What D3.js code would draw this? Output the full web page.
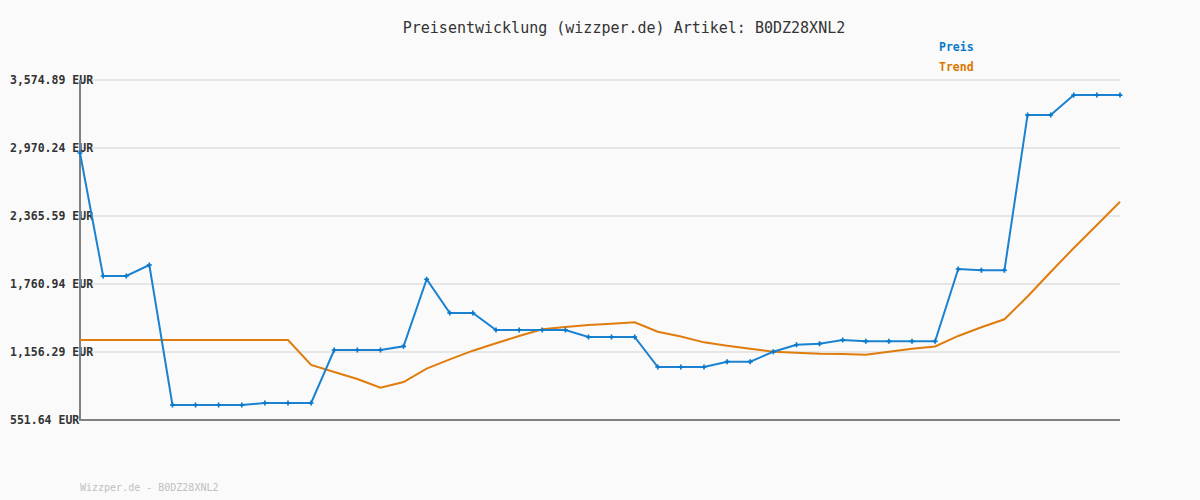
<!DOCTYPE html>
<html>
<head>
<meta charset="utf-8">
<script src="https://cdn.jsdelivr.net/npm/d3@7"></script>
<style>
  body { margin: 0; background: #fafafa; }
  text { font-family: "DejaVu Sans Mono", "Liberation Mono", monospace; }
</style>
</head>
<body>
<div id="chart"></div>
<script>
// price per observation (EUR)
const preis = [2926, 1832, 1832, 1930, 685, 685, 685, 685, 703, 703,
  703, 1174, 1174, 1174, 1207, 1803, 1503, 1503, 1352, 1352,
  1352, 1352, 1290, 1290, 1290, 1023, 1023, 1023, 1070, 1070,
  1159, 1221, 1230, 1263, 1251, 1251, 1251, 1251, 1894, 1883,
  1883, 3264, 3264, 3441, 3441, 3441];

const trend = [1263, 1263, 1263, 1263, 1263, 1263, 1263, 1263, 1263, 1263,
  1041, 978, 916, 839, 889, 1008, 1091, 1168, 1234, 1299,
  1358, 1379, 1396, 1408, 1420, 1337, 1294, 1242, 1212, 1186,
  1159, 1150, 1141, 1138, 1132, 1159, 1186, 1205, 1299, 1376,
  1447, 1650, 1868, 2081, 2286, 2493];

const yTicks = [551.64, 1156.29, 1760.94, 2365.59, 2970.24, 3574.89];

const svgWidth = 1200;
const svgHeight = 500;
const margin = { top: 80, right: 80, bottom: 80, left: 80 };
const width = svgWidth - margin.left - margin.right;
const height = svgHeight - margin.top - margin.bottom;

const svg = d3.select("#chart")
  .append("svg")
  .attr("width", svgWidth)
  .attr("height", svgHeight)
  .style("background", "#fafafa");

const x = d3.scaleLinear()
  .domain([0, preis.length - 1])
  .range([margin.left, margin.left + width]);

const y = d3.scaleLinear()
  .domain([yTicks[0], yTicks[yTicks.length - 1]])
  .range([margin.top + height, margin.top]);

// grid lines
svg.append("g")
  .selectAll("line")
  .data(yTicks)
  .enter()
  .append("line")
  .attr("x1", margin.left)
  .attr("x2", margin.left + width)
  .attr("y1", d => y(d))
  .attr("y2", d => y(d))
  .attr("stroke", "#e6e6e6")
  .attr("stroke-width", 2);

// y tick labels
const fmt = d3.format(",.2f");
svg.append("g")
  .selectAll("text")
  .data(yTicks)
  .enter()
  .append("text")
  .attr("x", 10)
  .attr("y", d => y(d) + 4)
  .attr("font-size", "11.5px")
  .attr("font-weight", "bold")
  .attr("fill", "#333")
  .text(d => fmt(d) + " EUR");

// axes
svg.append("line")
  .attr("x1", margin.left).attr("x2", margin.left)
  .attr("y1", margin.top).attr("y2", margin.top + height + 1)
  .attr("stroke", "#808080").attr("stroke-width", 2);
svg.append("line")
  .attr("x1", margin.left - 1).attr("x2", margin.left + width)
  .attr("y1", margin.top + height).attr("y2", margin.top + height)
  .attr("stroke", "#808080").attr("stroke-width", 2);

const line = d3.line()
  .x((d, i) => x(i))
  .y(d => y(d));

svg.append("path")
  .datum(trend)
  .attr("fill", "none")
  .attr("stroke", "#e07c0c")
  .attr("stroke-width", 2)
  .attr("d", line);

svg.append("path")
  .datum(preis)
  .attr("fill", "none")
  .attr("stroke", "#1a82d0")
  .attr("stroke-width", 2)
  .attr("d", line);

svg.append("g")
  .selectAll("path")
  .data(preis)
  .enter()
  .append("path")
  .attr("transform", (d, i) => `translate(${x(i)},${y(d)})`)
  .attr("d", d3.symbol(d3.symbolCross, 14))
  .attr("fill", "#0a78c8");

// title
svg.append("text")
  .attr("x", 624)
  .attr("y", 33)
  .attr("text-anchor", "middle")
  .attr("font-size", "15px")
  .attr("fill", "#333")
  .text("Preisentwicklung (wizzper.de) Artikel: B0DZ28XNL2");

// legend
svg.append("text")
  .attr("x", 939).attr("y", 51)
  .attr("font-size", "11.5px").attr("font-weight", "bold")
  .attr("fill", "#0a78c8")
  .text("Preis");
svg.append("text")
  .attr("x", 939).attr("y", 71)
  .attr("font-size", "11.5px").attr("font-weight", "bold")
  .attr("fill", "#dd7700")
  .text("Trend");

// footer
svg.append("text")
  .attr("x", 80).attr("y", 491)
  .attr("font-size", "10px")
  .attr("fill", "#c0c0c0")
  .text("Wizzper.de - B0DZ28XNL2");
</script>
</body>
</html>
